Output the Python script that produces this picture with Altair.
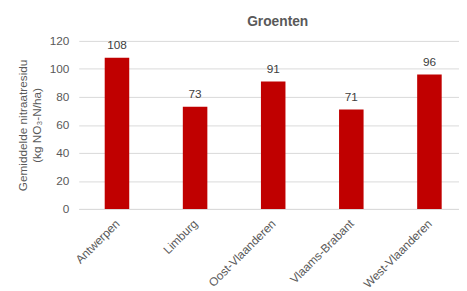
import altair as alt
import pandas as pd

provinces = ["Antwerpen", "Limburg", "Oost-Vlaanderen", "Vlaams-Brabant", "West-Vlaanderen"]
values = [108, 73, 91, 71, 96]
y_ticks = [0, 20, 40, 60, 80, 100, 120]

df = pd.DataFrame({"provincie": provinces, "waarde": values})

FONT = "Liberation Sans"
GRAY = "#595959"

x = alt.X("provincie:N", sort=provinces, title=None,
          scale=alt.Scale(paddingInner=0.686, paddingOuter=0.277, align=0.6),
          axis=alt.Axis(labelAngle=-45, labelAlign="right", labelBaseline="top",
                        labelFontSize=12, labelColor=GRAY, labelFont=FONT,
                        ticks=False, domainColor="#d9d9d9", labelPadding=9,
                        labelOffset=-3))
y = alt.Y("waarde:Q", title=["Gemiddelde  nitraatresidu", "(kg NO₃-N/ha)"],
          scale=alt.Scale(domain=[0, 120], nice=False),
          axis=alt.Axis(values=y_ticks, grid=True, gridColor="#d9d9d9", domain=False,
                        ticks=False, labelFontSize=12, labelColor=GRAY, labelFont=FONT,
                        labelPadding=10, titleFont=FONT, titleFontSize=12,
                        titleFontWeight="normal", titleColor=GRAY, titlePadding=6))

bars = alt.Chart(df).mark_bar(color="#c00000").encode(x=x, y=y)
labels = alt.Chart(df).mark_text(baseline="bottom", dy=-6, fontSize=12, font=FONT,
                                 color="#404040").encode(x=x, y=y, text="waarde:Q")

chart = (bars + labels).properties(
    width=387, height=171,
    autosize=alt.AutoSizeParams(type="none"),
    padding={"left": 72, "top": 31, "right": 0, "bottom": 80},
    title=alt.TitleParams("Groenten", font=FONT, fontSize=14, fontWeight="bold",
                          color=GRAY, anchor="middle", dx=9, offset=6),
).configure_view(stroke=None)

chart.save("out.html", embed_options={"renderer": "svg", "actions": False})
